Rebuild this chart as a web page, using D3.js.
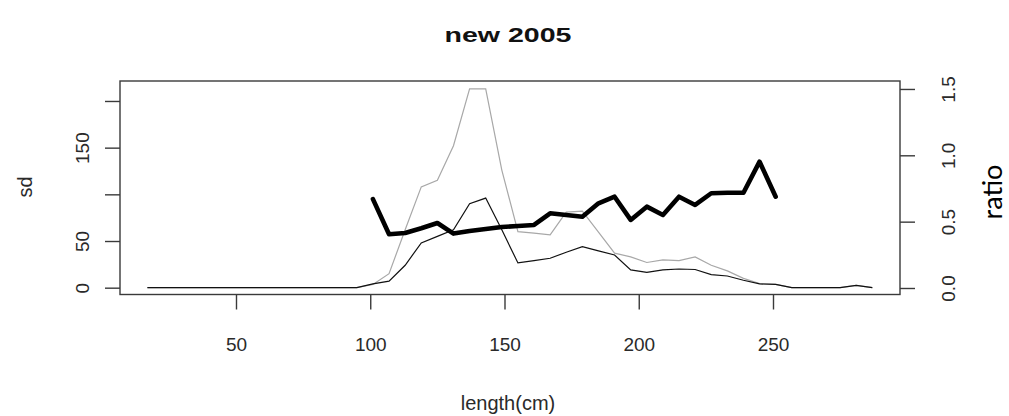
<!DOCTYPE html>
<html>
<head>
<meta charset="utf-8">
<script src="https://cdn.jsdelivr.net/npm/d3@7"></script>
<style>
  html, body { margin: 0; padding: 0; background: #fff; }
  svg { display: block; }
  text { font-family: "Liberation Sans", Arial, sans-serif; }
</style>
</head>
<body>
<svg id="chart" width="1009" height="416"></svg>
<script>
// ---- data ----
const lengths = [17, 23, 29, 35, 41, 47, 53, 59, 65, 71, 77, 83, 89, 95,
  101, 107, 113, 119, 125, 131, 137, 143, 149, 155, 161, 167, 173, 179, 185, 191,
  197, 203, 209, 215, 221, 227, 233, 239, 245, 251, 257, 263, 269, 275, 281, 287];

const greySd = [0, 0, 0, 0, 0, 0, 0, 0, 0, 0, 0, 0, 0, 0,
  3.5, 15, 62, 108, 115, 152, 213, 213, 126, 60, 58.5, 56.5, 81, 82, 59.5, 37,
  33, 27, 29.7, 29, 33, 24, 18, 10, 4.5, 3.6, 0, 0, 0, 0, 2.5, 0];

const blackSd = [0, 0, 0, 0, 0, 0, 0, 0, 0, 0, 0, 0, 0, 0,
  4, 7, 24, 48, 55, 62, 90, 96, 62, 26.5, 29, 31.5, 38, 44, 39.5, 35,
  19, 16.5, 19, 20, 19.5, 14, 12.5, 8, 4, 3.6, 0, 0, 0, 0, 2.5, 0];

const ratio = [null, null, null, null, null, null, null, null, null, null, null, null, null, null,
  0.67, 0.405, 0.415, 0.45, 0.49, 0.41, 0.43, 0.445, 0.46, 0.467, 0.475, 0.563, 0.55, 0.537, 0.638, 0.688,
  0.513, 0.613, 0.55, 0.688, 0.626, 0.714, 0.718, 0.718, 0.952, 0.688, null, null, null, null, null, null];

const xTicks = [50, 100, 150, 200, 250];
const leftTicks = [0, 50, 100, 150, 200];
const leftTickLabels = ["0", "50", "", "150", ""];
const rightTicks = [0, 0.5, 1.0, 1.5];
const rightTickLabels = ["0.0", "0.5", "1.0", "1.5"];

const titleText = "new 2005";
const xTitle = "length(cm)";
const leftTitle = "sd";
const rightTitle = "ratio";

// ---- layout ----
const svg = d3.select("#chart");
const box = { left: 120, right: 900, top: 81, bottom: 294.5 };

const x = d3.scaleLinear().domain([6.8, 297.3]).range([box.left, box.right]);
const yL = d3.scaleLinear().domain([-7.3, 221.4]).range([box.bottom, box.top]);
const yR = d3.scaleLinear().domain([-0.049, 1.560]).range([box.bottom, box.top]);

const axisColor = "#3a3a3a";
const labelColor = "#2a2a2a";
const tickFont = 19;

// lines
const pts = (vals) => lengths.map((l, i) => ({ l, v: vals[i] }));
const lineL = d3.line().defined(d => d.v != null).x(d => x(d.l)).y(d => yL(d.v));
const lineR = d3.line().defined(d => d.v != null).x(d => x(d.l)).y(d => yR(d.v));

svg.append("path").datum(pts(greySd)).attr("d", lineL)
  .attr("fill", "none").attr("stroke", "#a8a8a8").attr("stroke-width", 1.2);
svg.append("path").datum(pts(blackSd)).attr("d", lineL)
  .attr("fill", "none").attr("stroke", "#111").attr("stroke-width", 1.2);
svg.append("path").datum(pts(ratio)).attr("d", lineR)
  .attr("fill", "none").attr("stroke", "#000").attr("stroke-width", 4.6)
  .attr("stroke-linejoin", "round").attr("stroke-linecap", "round");

// box
svg.append("rect").attr("x", box.left).attr("y", box.top)
  .attr("width", box.right - box.left).attr("height", box.bottom - box.top)
  .attr("fill", "none").attr("stroke", axisColor).attr("stroke-width", 1.4);

// bottom axis
const gx = svg.append("g").attr("transform", `translate(0,${box.bottom})`)
  .call(d3.axisBottom(x).tickValues(xTicks).tickSize(15).tickFormat(d3.format("d")));
gx.select(".domain").remove();
gx.selectAll(".tick line").attr("stroke", axisColor).attr("stroke-width", 1.4);
gx.selectAll(".tick text").attr("y", 56).attr("dy", 0)
  .attr("font-size", tickFont).attr("fill", labelColor);

// left axis
const gl = svg.append("g").attr("transform", `translate(${box.left},0)`)
  .call(d3.axisLeft(yL).tickValues(leftTicks).tickSize(15)
    .tickFormat((d, i) => leftTickLabels[i]));
gl.select(".domain").remove();
gl.selectAll(".tick line").attr("stroke", axisColor).attr("stroke-width", 1.4);
gl.selectAll(".tick text").attr("transform", "rotate(-90)")
  .attr("x", 0).attr("y", -31).attr("dy", 0).attr("text-anchor", "middle")
  .attr("font-size", tickFont).attr("fill", labelColor);

// right axis
const gr = svg.append("g").attr("transform", `translate(${box.right},0)`)
  .call(d3.axisRight(yR).tickValues(rightTicks).tickSize(15)
    .tickFormat((d, i) => rightTickLabels[i]));
gr.select(".domain").remove();
gr.selectAll(".tick line").attr("stroke", axisColor).attr("stroke-width", 1.4);
gr.selectAll(".tick text").attr("transform", "rotate(-90)")
  .attr("x", 0).attr("y", 55).attr("dy", 0).attr("text-anchor", "middle")
  .attr("font-size", tickFont).attr("fill", labelColor);

// titles
svg.append("text").attr("x", 508).attr("y", 42).attr("text-anchor", "middle")
  .attr("font-size", 21).attr("font-weight", "bold").attr("fill", "#111")
  .attr("textLength", 127).attr("lengthAdjust", "spacingAndGlyphs")
  .text(titleText);

svg.append("text").attr("x", 508).attr("y", 410).attr("text-anchor", "middle")
  .attr("font-size", 20).attr("fill", labelColor)
  .text(xTitle);

svg.append("text").attr("transform", "translate(31.5,187) rotate(-90)")
  .attr("text-anchor", "middle").attr("font-size", 20).attr("fill", labelColor)
  .text(leftTitle);

svg.append("text").attr("transform", "translate(1002,192) rotate(-90)")
  .attr("text-anchor", "middle").attr("font-size", 27).attr("fill", "#000")
  .style("font-family", "Lato, 'Open Sans', sans-serif")
  .text(rightTitle);
</script>
</body>
</html>
